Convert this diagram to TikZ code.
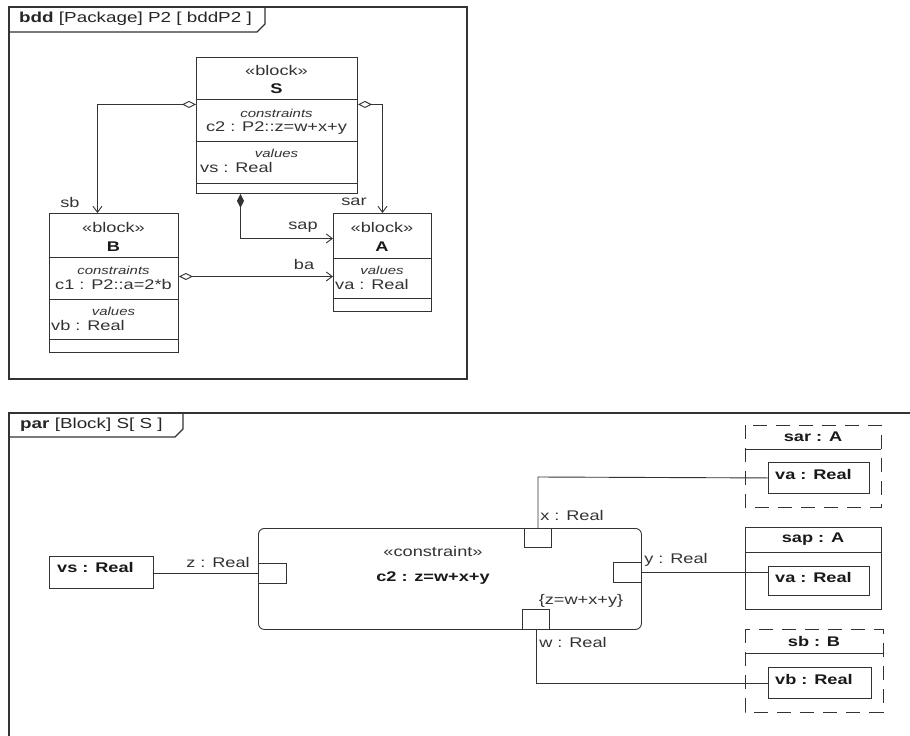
\documentclass[tikz,border=0pt]{standalone}
\usepackage{fontspec}
\setmainfont{Liberation Sans}[FakeStretch=1.3]
\usetikzlibrary{arrows.meta}
\tikzset{
  ln/.style={draw=black!80, line width=0.9pt},
  frm/.style={draw=black!80, line width=1.2pt},
  box/.style={ln, inner sep=0pt, anchor=north west, fill=white},
  txt/.style={inner sep=0pt, text=black!80, font=\fontsize{14}{16}\selectfont},
  ttxt/.style={inner sep=0pt, text=black!85, font=\fontsize{14.5}{16}\selectfont},
  btxt/.style={inner sep=0pt, text=black!90, font=\fontsize{14}{16}\selectfont\bfseries},
  stxt/.style={inner sep=0pt, text=black!80, font=\fontsize{11.5}{13}\selectfont\itshape},
  oarr/.style={-{Straight Barb[length=6pt,width=9pt]}},
  hdia/.style={{Diamond[open,length=14pt,width=7pt]}-{Straight Barb[length=6pt,width=9pt]}},
  fdia/.style={{Diamond[length=14pt,width=7pt]}-{Straight Barb[length=6pt,width=9pt]}},
  dsh/.style={ln, dash pattern=on 14pt off 9pt},
}
\begin{document}
\begin{tikzpicture}[x=1pt,y=-1pt]
\useasboundingbox (0,0) rectangle (910,736);
% ---------- bdd frame ----------
\draw[frm] (9,7) rectangle (467,379);
\draw[frm] (9,32) -- (257,32) -- (265,24) -- (265,7);
\node[ttxt, anchor=west] (bddtitle) at (19,19) {\textbf{bdd} [Package] P2 [ bddP2 ]};

% Block S
\node[box, minimum width=161pt, minimum height=136pt] (S) at (196,57) {};
\draw[ln] ([yshift=-42pt]S.north west) -- ([yshift=-42pt]S.north east);
\draw[ln] ([yshift=-84pt]S.north west) -- ([yshift=-84pt]S.north east);
\draw[ln] ([yshift=-126pt]S.north west) -- ([yshift=-126pt]S.north east);
\node[txt] (Sst) at (276.5,70) {«block»};
\node[btxt] (Sname) at (276.5,89) {S};
\node[stxt] (Scon) at (276.5,113) {constraints};
\node[txt] (Sc2) at (276.5,128) {c2 : P2::z=w+x+y};
\node[stxt] (Sval) at (276.5,153) {values};
\node[txt, anchor=west] (Svs) at (200,167) {vs : Real};

% Block B
\node[box, minimum width=129pt, minimum height=139pt] (B) at (49,213) {};
\draw[ln] ([yshift=-44pt]B.north west) -- ([yshift=-44pt]B.north east);
\draw[ln] ([yshift=-86pt]B.north west) -- ([yshift=-86pt]B.north east);
\draw[ln] ([yshift=-126pt]B.north west) -- ([yshift=-126pt]B.north east);
\node[txt] (Bst) at (113.5,227) {«block»};
\node[btxt] (Bname) at (113.5,247) {B};
\node[stxt] (Bcon) at (113.5,270) {constraints};
\node[txt] (Bc1) at (113.5,284) {c1 : P2::a=2*b};
\node[stxt] (Bval) at (113.5,311) {values};
\node[txt, anchor=west] (Bvb) at (51,325) {vb : Real};

% Block A
\node[box, minimum width=98pt, minimum height=98pt] (A) at (333,213) {};
\draw[ln] ([yshift=-45pt]A.north west) -- ([yshift=-45pt]A.north east);
\draw[ln] ([yshift=-85pt]A.north west) -- ([yshift=-85pt]A.north east);
\node[txt] (Ast) at (382,227) {«block»};
\node[btxt] (Aname) at (382,247) {A};
\node[stxt] (Aval) at (382,270) {values};
\node[txt, anchor=west] (Ava) at (335,284) {va : Real};

% bdd connectors
\draw[ln, hdia] ([yshift=21pt]S.west) -| ([xshift=-16.5pt]B.north);
\draw[ln, hdia] ([yshift=21pt]S.east) -| (A.north);
\draw[ln, fdia] ([xshift=-36.5pt]S.south) |- ([yshift=24pt]A.west);
\draw[ln, hdia] ([yshift=6.5pt]B.east) -- ([yshift=6.5pt]B.east -| A.west);
\node[txt] (lsb) at (70,202) {sb};
\node[txt] (lsar) at (354,202) {sar};
\node[txt] (lsap) at (303,227) {sap};
\node[txt] (lba) at (304,264) {ba};

% ---------- par frame ----------
\draw[frm] (9,740) -- (9,413) -- (914,413);
\draw[frm] (9,437) -- (175,437) -- (183,429) -- (183,413);
\node[ttxt, anchor=west] (partitle) at (20,425) {\textbf{par} [Block] S[ S ]};

% vs : Real
\node[box, minimum width=104pt, minimum height=32pt] (vs) at (49,556) {};
\node[btxt, anchor=west] (vst) at (57,567) {vs : Real};

% constraint block
\node[box, rounded corners=6pt, minimum width=383pt, minimum height=101pt] (C) at (258,528) {};
\node[txt] (Cst) at (433,551) {«constraint»};
\node[btxt] (Cname) at (433,578) {c2 : z=w+x+y};
\node[txt] (Ceq) at (581,601) {\{z=w+x+y\}};

% ports
\node[box, minimum width=28pt, minimum height=20pt] (pz) at (258,563) {};
\node[box, minimum width=27pt, minimum height=19pt] (px) at (524,528) {};
\node[box, minimum width=28pt, minimum height=20pt] (py) at (613,562) {};
\node[box, minimum width=27pt, minimum height=20pt] (pw) at (522,609) {};
\node[txt] (lz) at (218,562) {z : Real};
\node[txt] (lx) at (572,515) {x : Real};
\node[txt] (ly) at (676,560) {y : Real};
\node[txt] (lw) at (573,642) {w : Real};

% parts
\draw[dsh] (745,425) rectangle (881,507);
\draw[ln] (745,449) -- (881,449);
\node[btxt] (sart) at (813,437) {sar : A};
\node[box, minimum width=101pt, minimum height=31pt] (va1) at (768,462) {};
\node[btxt, anchor=west] (va1t) at (775,474) {va : Real};

\node[box, minimum width=136pt, minimum height=82pt, fill=none] (sap) at (745,527) {};
\draw[ln] (745,552) -- (881,552);
\node[btxt] (sapt) at (813,539) {sap : A};
\node[box, minimum width=101pt, minimum height=29pt] (va2) at (768,566) {};
\node[btxt, anchor=west] (va2t) at (775,577) {va : Real};

\draw[dsh] (745,629) rectangle (883,712);
\draw[ln] (745,653) -- (883,653);
\node[btxt] (sbt) at (814,641) {sb : B};
\node[box, minimum width=103pt, minimum height=31pt] (vb) at (768,667) {};
\node[btxt, anchor=west] (vbt) at (775,679) {vb : Real};

% par connectors
\draw[ln] (pz.west) -- (pz.west -| vs.east);
\draw[ln] (px.north) -- ++(0,-51) -- (va1.west);
\draw[ln] (py.east) -- (py.east -| va2.west);
\draw[ln] (pw.south) |- (vb.west);
\end{tikzpicture}
\end{document}
